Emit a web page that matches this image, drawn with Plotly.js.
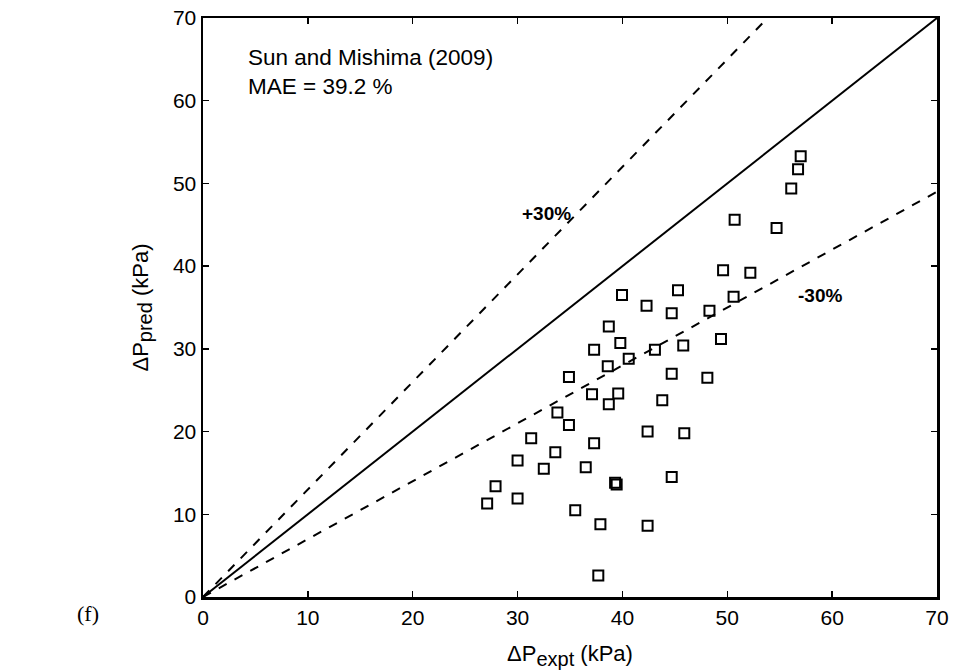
<!DOCTYPE html>
<html>
<head>
<meta charset="utf-8">
<script src="https://cdn.plot.ly/plotly-3.0.1.min.js"></script>
<style>
html,body{margin:0;padding:0;background:#fff;}
#chart{width:956px;height:670px;}
</style>
</head>
<body>
<div id="chart"></div>
<script>
// Experimental vs predicted pressure drop (kPa)
const dpExpt = [39.96,45.3,42.3,44.7,38.7,39.8,37.3,43.1,45.8,40.6,38.6,34.9,44.7,37.1,39.6,38.7,43.8,33.8,34.9,42.4,45.9,31.3,37.3,33.6,30.0,32.5,36.5,39.3,39.45,44.7,27.9,27.1,30.0,35.5,37.9,42.4,37.7,
                57.0,56.75,56.1,50.7,54.7,49.6,52.2,48.3,50.6,49.4,48.1];
const dpPred = [36.5,37.1,35.2,34.3,32.7,30.7,29.9,29.9,30.4,28.8,27.9,26.6,27.0,24.5,24.6,23.3,23.8,22.3,20.8,20.0,19.8,19.2,18.6,17.5,16.5,15.5,15.7,13.8,13.6,14.5,13.4,11.3,11.9,10.5,8.8,8.6,2.6,
                53.3,51.7,49.4,45.6,44.6,39.5,39.2,34.6,36.3,31.2,26.5];
const refRange = [0, 70];
const factors = {exact: 1.0, plus30: 1.3, minus30: 0.7};
const xTicks = [0,10,20,30,40,50,60,70];
const yTicks = [0,10,20,30,40,50,60,70];

const FONT = 'Liberation Sans, Arial, Helvetica, sans-serif';

const lineTrace = (f, dash) => ({
  x: refRange, y: refRange.map(v => v * f), mode: 'lines', type: 'scatter',
  line: {color: '#000', width: 2, dash: dash},
  hoverinfo: 'skip', showlegend: false
});

const traces = [
  lineTrace(factors.plus30, 'dash'),
  lineTrace(factors.exact, 'solid'),
  lineTrace(factors.minus30, 'dash'),
  {
    x: dpExpt, y: dpPred, mode: 'markers', type: 'scatter', showlegend: false,
    marker: {symbol: 'square-open', size: 10, color: '#000', line: {width: 2, color: '#000'}}
  }
];

const axisCommon = {
  range: [0, 70], showgrid: false, zeroline: false, showline: true, linecolor: '#000', linewidth: 2.5,
  mirror: 'ticks', ticks: 'inside', ticklen: 6, tickwidth: 1.5, tickcolor: '#000',
  tickfont: {family: FONT, size: 21, color: '#000'},
  fixedrange: true, automargin: false
};

const layout = {
  width: 956, height: 670,
  margin: {l: 203, r: 19, t: 18, b: 73},
  paper_bgcolor: '#fff', plot_bgcolor: '#fff',
  xaxis: Object.assign({}, axisCommon, {
    tickvals: xTicks, ticktext: xTicks.map(String),
    title: {text: 'ΔP<sub><span style="font-size:20px">expt</span></sub> (kPa)', font: {family: FONT, size: 22, color: '#000'}}
  }),
  yaxis: Object.assign({}, axisCommon, {
    tickvals: yTicks, ticktext: yTicks.map(String),
    title: {text: 'ΔP<sub><span style="font-size:20px">pred</span></sub> (kPa)', font: {family: FONT, size: 22, color: '#000'}}
  }),
  annotations: [
    {x: 0.058, y: 0.857, xref: 'paper', yref: 'paper', xanchor: 'left', yanchor: 'bottom', showarrow: false, align: 'left',
     text: 'Sun and Mishima (2009)<br>MAE = 39.2 %', font: {family: FONT, size: 22.5, color: '#000'}},
    {x: 32.8, y: 46.4, xref: 'x', yref: 'y', showarrow: false, text: '<b>+30%</b>',
     font: {family: FONT, size: 19, color: '#000'}},
    {x: 58.8, y: 36.4, xref: 'x', yref: 'y', showarrow: false, text: '<b>-30%</b>',
     font: {family: FONT, size: 19, color: '#000'}},
    {x: 0, y: 0, xref: 'paper', yref: 'paper', showarrow: false, text: '(f)',
     font: {family: 'Liberation Serif, Times New Roman, serif', size: 22, color: '#000'}}
  ]
};
// position "(f)" in pixel terms relative to the plot area
const plotW = 956 - 203 - 19, plotH = 670 - 18 - 73;
layout.annotations[3].x = (75 - 203) / plotW;
layout.annotations[3].y = (670 - 73 - 628) / plotH;

Plotly.newPlot('chart', traces, layout, {displayModeBar: false, staticPlot: true});
</script>
</body>
</html>
